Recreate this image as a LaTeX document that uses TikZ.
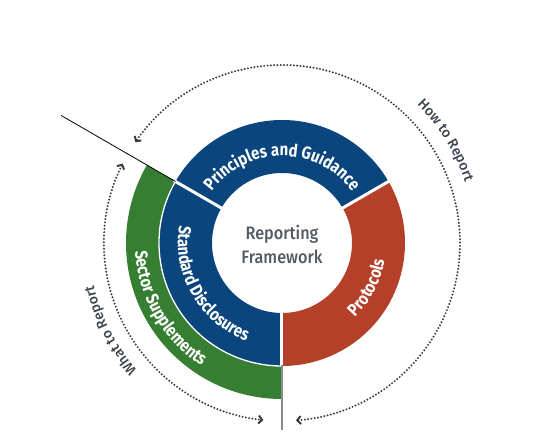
\documentclass[tikz,border=0pt]{standalone}
\usepackage{fontspec}
\setmainfont{Fira Sans}[FakeStretch=0.85]
\newfontfamily\ringfont{Fira Sans}[FakeStretch=0.85]
\newfontfamily\medfont{Fira Sans}[UprightFont={* Medium}, FakeStretch=0.9]
\newfontfamily\outfont{Fira Sans}[UprightFont={* Medium}]
\usetikzlibrary{decorations.text,arrows.meta}
\definecolor{griblue}{RGB}{10,70,125}
\definecolor{grired}{RGB}{181,64,42}
\definecolor{grigreen}{RGB}{54,127,50}
\definecolor{dotgray}{RGB}{60,60,60}
\definecolor{labgray}{RGB}{60,68,78}
\definecolor{framegray}{RGB}{85,90,98}
\definecolor{splitgray}{RGB}{140,140,140}
\newcommand\grisector[5]{% color, start, end, inner, outer
  \fill[#1] (#2:#4) arc[start angle=#2,end angle=#3,radius=#4pt]
     -- (#3:#5) arc[start angle=#3,end angle=#2,radius=#5pt] -- cycle;}
\tikzset{
  sep/.style={draw=white, line width=3pt},
  dotarc/.style={draw=dotgray, line width=2.2pt, line cap=round,
     dash pattern=on 0pt off 3.3pt, >={Straight Barb[length=3.5pt,width=8pt,line width=2pt]}, <->},
  ringlabel/.style={decorate, decoration={text along path, text align=center,
     text color=white, text={|\ringfont\bfseries\fontsize{17.5}{17.5}\selectfont|#1}}},
  outlabel/.style={decorate, decoration={text along path, text align=center,
     text color=labgray, text={|\outfont\fontsize{14}{14}\selectfont|#1}}}
}
\begin{document}
\begin{tikzpicture}[x=1pt,y=1pt]
\useasboundingbox (-282,-199) rectangle (257,243);
\coordinate (c) at (0,0);
% ring sectors
\grisector{grired}{-90}{30}{70}{123}
\grisector{griblue}{30}{150}{70}{123}
\grisector{griblue}{150}{270}{70}{123}
\grisector{grigreen}{150}{270}{123}{156}
% separators
\draw[sep] (30:68) -- (30:125);
\draw[sep] (150:68) -- (150:125);
\draw[sep] (270:68) -- (270:123);
\draw[draw=white, line width=1.3pt] (150:123) arc[start angle=150,end angle=270,radius=123pt];
\coordinate (gtop) at (270:122);
\coordinate (gbot) at (270:187);
\draw[splitgray, line width=1.2pt] (gtop) -- (gbot);
\coordinate (bin) at (150:123);
\coordinate (bout) at (150:255);
\draw[black, line width=0.8pt] (bin) -- (bout);
% dotted arcs
\draw[dotarc] (-85.5:178) arc[start angle=-85.5,end angle=145.5,radius=178pt];
\draw[dotarc] (153.5:178) arc[start angle=153.5,end angle=264,radius=178pt];
% ring labels
\path[ringlabel={Principles and Guidance}] (150:87) arc[start angle=150,end angle=30,radius=87pt];
\path[ringlabel={Standard Disclosures}] (150:104) arc[start angle=150,end angle=270,radius=104pt];
\path[ringlabel={Protocols}] (-90:104) arc[start angle=-90,end angle=35,radius=104pt];
\path[ringlabel={Sector Supplements}] (150:147) arc[start angle=150,end angle=270,radius=147pt];
% outer labels
\path[outlabel={How to Report}] (62:193) arc[start angle=62,end angle=2,radius=193pt];
\path[outlabel={What to Report}] (237:193) arc[start angle=237,end angle=177,radius=193pt];
% centre
\node[font=\medfont\fontsize{18}{24}\selectfont, text=framegray, align=center] (rf) at (0,-1) {Reporting\\Framework};
\end{tikzpicture}
\end{document}
